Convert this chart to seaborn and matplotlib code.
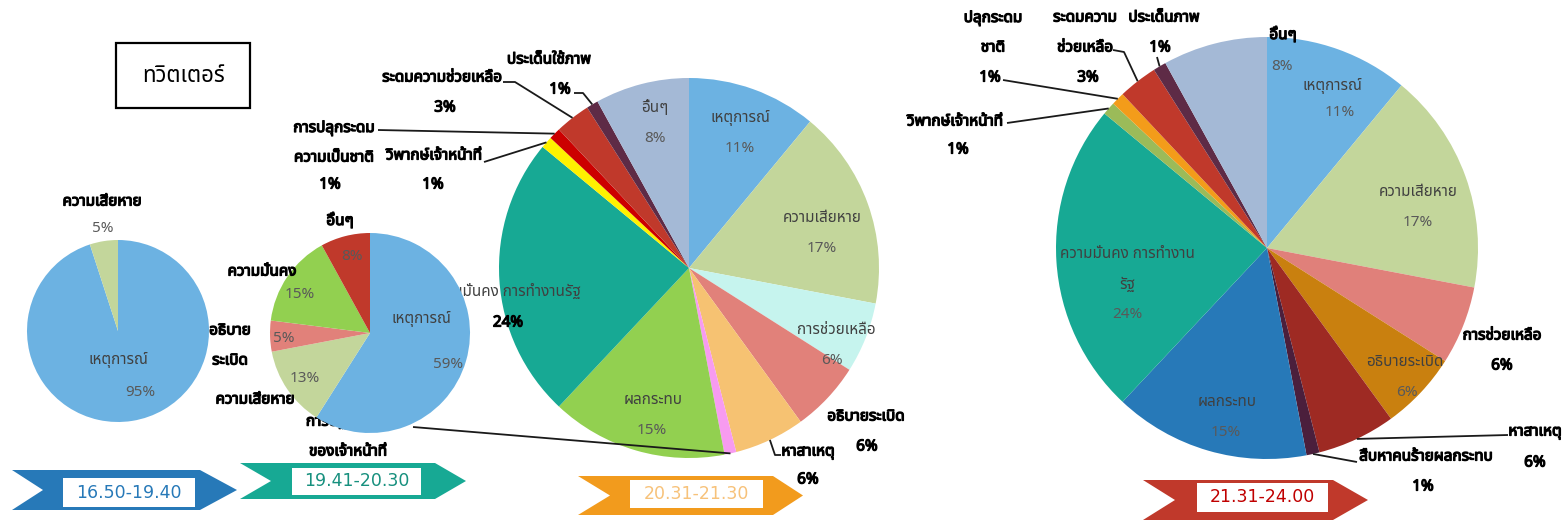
import matplotlib
matplotlib.use("Agg")
import numpy as np
import matplotlib.pyplot as plt
import matplotlib.patheffects as pe
import seaborn as sns
from matplotlib import font_manager
from matplotlib.ft2font import FT2Font
from matplotlib.patches import Polygon, Rectangle

# ---------------------------------------------------------------- data
title = "ทวิตเตอร์"
periods = ["16.50-19.40", "19.41-20.30", "20.31-21.30", "21.31-24.00"]

p1_labels = ["เหตุการณ์", "ความเสียหาย"]
p1_values = [95, 5]

p2_labels = ["เหตุการณ์", "ความเสียหาย", "อธิบาย\nระเบิด", "ความมั่นคง", "อื่นๆ"]
p2_values = [59, 13, 5, 15, 8]

p3_labels = ["เหตุการณ์", "ความเสียหาย", "การช่วยเหลือ", "อธิบายระเบิด", "หาสาเหตุ",
             "การปฏิบัติงาน\nของเจ้าหน้าที่", "ผลกระทบ", "ความมั่นคง การทำงานรัฐ",
             "วิพากษ์เจ้าหน้าที่", "การปลุกระดม\nความเป็นชาติ", "ระดมความช่วยเหลือ",
             "ประเด็นใช้ภาพ", "อื่นๆ"]
p3_values = [11, 17, 6, 6, 6, 1, 15, 24, 1, 1, 3, 1, 8]

p4_labels = ["เหตุการณ์", "ความเสียหาย", "การช่วยเหลือ", "อธิบายระเบิด", "หาสาเหตุ",
             "สืบหาคนร้ายผลกระทบ", "ผลกระทบ", "ความมั่นคง การทำงาน\nรัฐ",
             "วิพากษ์เจ้าหน้าที่", "ปลุกระดม\nชาติ", "ระดมความ\nช่วยเหลือ",
             "ประเด็นภาพ", "อื่นๆ"]
p4_values = [11, 17, 6, 6, 6, 1, 15, 24, 1, 1, 3, 1, 8]

# ---------------------------------------------------------------- styling
p1_colors = ["#6CB2E2", "#C3D69B"]
p2_colors = ["#6CB2E2", "#C3D69B", "#E1817A", "#92D050", "#C0392B"]
p3_colors = ["#6CB2E2", "#C3D69B", "#C6F4EE", "#E1817A", "#F6C272", "#F79BF0",
             "#92D050", "#17A994", "#FFF200", "#CC0000", "#C0392B", "#5E2B46", "#A4B9D6"]
p4_colors = ["#6CB2E2", "#C3D69B", "#E0807A", "#C9800F", "#9E2A23", "#4B1F3C",
             "#2779B8", "#17A994", "#9BBB59", "#F39C1A", "#C0392B", "#5E2B46", "#A4B9D6"]
banner_colors = ["#2779B8", "#17A994", "#F29B1D", "#C0392B"]
banner_text_colors = ["#2779B8", "#17907E", "#F7C27A", "#C00000"]

sns.set_theme(style="white")


def find_thai_family():
    preferred = ["Noto Sans Thai", "Noto Sans Thai UI", "Loma", "Garuda", "Tahoma",
                 "Norasi", "Waree", "Umpush", "Kinnari", "Sawasdee", "Laksaman",
                 "Noto Serif Thai", "FreeSans", "FreeSerif"]
    found = {}
    for f in font_manager.fontManager.ttflist:
        try:
            cmap = FT2Font(f.fname).get_charmap()
        except Exception:
            continue
        if 0x0E01 in cmap and 0x0E4C in cmap:
            found.setdefault(f.name, f.fname)
    for name in preferred:
        if name in found:
            return name
    return next(iter(found), None)


THAI = find_thai_family()
FAMILY = [THAI, "DejaVu Sans"] if THAI else ["DejaVu Sans"]
plt.rcParams["font.family"] = FAMILY

W, H = 1562, 521
fig = plt.figure(figsize=(W / 100, H / 100), dpi=100)
ax = fig.add_axes([0, 0, 1, 1])


def Y(y):
    return H - y


HEAVY = [pe.withStroke(linewidth=0.9, foreground="black")]
STYLE = {
    "in": dict(color="#404040", fontweight="normal", fontsize=11),
    "pct": dict(color="#595959", fontweight="normal", fontsize=11),
    "out": dict(color="black", fontweight="bold", fontsize=11, path_effects=HEAVY),
    "outpct": dict(color="black", fontweight="bold", fontsize=11, path_effects=HEAVY),
}
LINE_GAP = 30


def draw_pie(values, labels, colors, cx, cy, r, layout, z):
    wedges, _ = ax.pie(values, colors=colors, startangle=90, counterclock=False,
                       center=(cx, Y(cy)), radius=r, frame=True,
                       wedgeprops=dict(linewidth=0, zorder=z))
    for w, lab, v, spec in zip(wedges, labels, values, layout):
        name_xy, name_kind, pct_xy, pct_kind, leader = spec
        lines = lab.split("\n")
        x0, y0 = name_xy
        for i, ln in enumerate(lines):
            ax.text(x0, Y(y0 + i * LINE_GAP), ln, ha="center", va="center",
                    zorder=z + 1, **STYLE[name_kind])
        if pct_kind is not None:
            if pct_xy is None:
                pct_xy = (x0, y0 + len(lines) * LINE_GAP)
            ax.text(pct_xy[0], Y(pct_xy[1]), f"{v}%", ha="center", va="center",
                    zorder=z + 1, **STYLE[pct_kind])
        if leader:
            mid = np.deg2rad((w.theta1 + w.theta2) / 2)
            ex = w.center[0] + w.r * np.cos(mid)
            ey = w.center[1] + w.r * np.sin(mid)
            xs = [ex] + [p[0] for p in leader]
            ys = [ey] + [Y(p[1]) for p in leader]
            ax.plot(xs, ys, color="#1a1a1a", lw=1.3, zorder=z + 1,
                    solid_capstyle="butt")
    return wedges


# label layout: (name position, name style, pct position, pct style, leader points)
layout1 = [
    ((118, 360), "in", (140, 392), "pct", None),
    ((102, 202), "out", (103, 228), "pct", None),
]
layout2 = [
    ((421, 319), "in", (448, 364), "pct", None),
    ((255, 400), "out", (305, 378), "pct", None),
    ((230, 331), "out", (284, 339), "pct", None),
    ((262, 272), "out", (300, 294), "pct", None),
    ((340, 221), "out", (352, 256), "pct", None),
]
layout3 = [
    ((740, 118), "in", None, "pct", None),
    ((822, 218), "in", None, "pct", None),
    ((836, 330), "in", (832, 361), "pct", None),
    ((866, 417), "out", (867, 447), "outpct", None),
    ((808, 452), "out", (808, 480), "outpct", [(775, 455), (781, 455)]),
    ((348, 422), "out", None, None, [(413, 427)]),
    ((653, 401), "in", (652, 431), "pct", None),
    ((505, 292), "in", (508, 323), "outpct", None),
    ((434, 156), "out", (433, 185), "outpct", [(484, 162)]),
    ((334, 128), "out", (330, 185), "outpct", [(378, 130)]),
    ((442, 78), "out", (445, 108), "outpct", [(515, 82), (503, 82)]),
    ((549, 60), "out", (560, 90), "outpct", [(583, 93), (574, 93)]),
    ((655, 108), "in", (655, 139), "pct", None),
]
layout4 = [
    ((1332, 86), "in", (1340, 113), "pct", None),
    ((1418, 193), "in", (1418, 223), "pct", None),
    ((1502, 336), "out", (1502, 366), "outpct", None),
    ((1405, 362), "in", (1407, 392), "pct", None),
    ((1535, 432), "out", (1535, 463), "outpct", [(1508, 435)]),
    ((1426, 457), "out", (1423, 487), "outpct", [(1357, 462)]),
    ((1227, 403), "in", (1226, 433), "pct", None),
    ((1127, 255), "in", None, "pct", None),
    ((955, 122), "out", (958, 150), "outpct", [(1007, 123)]),
    ((993, 18), "out", (990, 78), "outpct", [(1003, 80)]),
    ((1085, 18), "out", (1088, 78), "outpct", [(1124, 52), (1113, 50)]),
    ((1164, 18), "out", (1160, 48), "outpct", [(1157, 57)]),
    ((1283, 35), "out", (1282, 66), "pct", None),
]

draw_pie(p3_values, p3_labels, p3_colors, 689, 268, 190, layout3, z=2)
draw_pie(p2_values, p2_labels, p2_colors, 370, 333, 100, layout2, z=4)
draw_pie(p1_values, p1_labels, p1_colors, 118, 331, 91, layout1, z=4)
draw_pie(p4_values, p4_labels, p4_colors, 1267, 248, 211, layout4, z=2)

# title box
ax.add_patch(Rectangle((116, Y(108)), 134, 65, fill=False, edgecolor="black",
                       lw=1.6, zorder=6))
ax.text(183, Y(76), title, ha="center", va="center", fontsize=16,
        color="black", zorder=7)

# time ribbons: (left, tip, top, bottom, notch, head, box x0, box x1, box top, box bottom)
ribbons = [
    (12, 237, 470, 510, 31, 37, 63, 195, 478, 507),
    (240, 466, 463, 499, 31, 31, 292, 421, 468, 495),
    (578, 803, 476, 515, 32, 30, 630, 763, 480, 508),
    (1143, 1368, 480, 520, 32, 35, 1197, 1328, 483, 512),
]
for (x0, x1, top, bot, notch, head, bx0, bx1, by0, by1), txt, col, tcol in zip(
        ribbons, periods, banner_colors, banner_text_colors):
    ym = (top + bot) / 2
    pts = [(x0, top), (x1 - head, top), (x1, ym), (x1 - head, bot), (x0, bot),
           (x0 + notch, ym)]
    ax.add_patch(Polygon([(px, Y(py)) for px, py in pts], closed=True,
                         facecolor=col, edgecolor="none", zorder=8))
    ax.add_patch(Rectangle((bx0, Y(by1)), bx1 - bx0, by1 - by0, facecolor="white",
                           edgecolor="none", zorder=9))
    ax.text((bx0 + bx1) / 2, Y((by0 + by1) / 2), txt, ha="center", va="center",
            fontsize=12.5, color=tcol, zorder=10, family="DejaVu Sans")

ax.set_xlim(0, W)
ax.set_ylim(0, H)
ax.set_aspect("equal")
ax.set_axis_off()
fig.savefig("out.png", dpi=100, facecolor="white")
